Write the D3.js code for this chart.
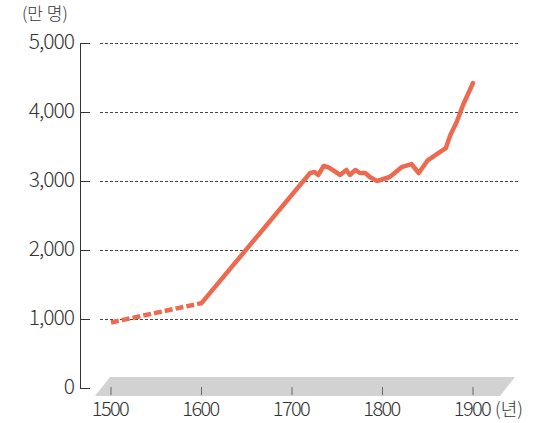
<!DOCTYPE html>
<html>
<head>
<meta charset="utf-8">
<script src="https://cdn.jsdelivr.net/npm/d3@7"></script>
<style>
  body { margin: 0; background: #fff; }
  text { font-family: "Noto Sans CJK KR", "Noto Sans", sans-serif; fill: #333; font-weight: 300; }
</style>
</head>
<body>
<svg width="546" height="423"></svg>
<script>
// estimated (dashed) part
var earlyYears = [1500, 1600];
var earlyPop = [950, 1230];

// recorded part
var years = [1600, 1720, 1725, 1729, 1735, 1740, 1750, 1753, 1760, 1764, 1770, 1775, 1781, 1786, 1794,
    1808, 1821, 1832, 1840, 1850, 1860, 1870, 1875, 1882, 1889, 1900];
var pop = [1230, 3116, 3130, 3087, 3217, 3200, 3116, 3087, 3160, 3087, 3160, 3116, 3116, 3058, 3000,
    3058, 3200, 3246, 3116, 3300, 3390, 3478, 3667, 3855, 4101, 4420];

var yTicks = [0, 1000, 2000, 3000, 4000, 5000];
var xTicks = [1500, 1600, 1700, 1800, 1900];

var svg = d3.select("svg");

var x = d3.scaleLinear().domain([1500, 1900]).range([111, 473]);
var y = d3.scaleLinear().domain([0, 5000]).range([388, 43]);

var fmt = d3.format(",");

// gray floor band
var bandTop = 377, bandBot = 396;
svg.append("path")
    .attr("d", "M" + (x(1500) - 16) + "," + bandBot +
        "L" + (x(1500) - 1) + "," + bandTop +
        "L" + (x(1900) + 42) + "," + bandTop +
        "L" + (x(1900) + 27) + "," + bandBot + "Z")
    .attr("fill", "#d2d2d2");

// x ticks inside band
svg.append("g")
    .selectAll("line")
    .data(xTicks)
    .enter().append("line")
    .attr("x1", function (d) { return x(d); })
    .attr("x2", function (d) { return x(d); })
    .attr("y1", 387)
    .attr("y2", 395)
    .attr("stroke", "#666")
    .attr("stroke-width", 1);

// grid lines
svg.append("g")
    .selectAll("line")
    .data(yTicks.slice(1))
    .enter().append("line")
    .attr("x1", 100)
    .attr("x2", 519)
    .attr("y1", function (d) { return y(d) + 0.5; })
    .attr("y2", function (d) { return y(d) + 0.5; })
    .attr("stroke", "#444")
    .attr("stroke-width", 1)
    .attr("stroke-dasharray", "3,2");

// y axis
svg.append("line")
    .attr("x1", 80.5).attr("x2", 80.5)
    .attr("y1", y(5000)).attr("y2", y(0) + 0.5)
    .attr("stroke", "#333");

svg.append("g")
    .selectAll("line")
    .data(yTicks)
    .enter().append("line")
    .attr("x1", 80)
    .attr("x2", 90)
    .attr("y1", function (d) { return y(d) + 0.5; })
    .attr("y2", function (d) { return y(d) + 0.5; })
    .attr("stroke", "#333");

svg.append("g")
    .selectAll("text")
    .data(yTicks)
    .enter().append("text")
    .attr("x", 74)
    .attr("y", function (d) { return y(d) + 6; })
    .attr("text-anchor", "end")
    .attr("font-size", "21px")
    .attr("letter-spacing", "-1px")
    .text(function (d) { return fmt(d); });

svg.append("text")
    .attr("x", 22)
    .attr("y", 20)
    .attr("font-size", "17px")
    .text("(만 명)");

// x labels
svg.append("g")
    .selectAll("text")
    .data(xTicks)
    .enter().append("text")
    .attr("x", function (d) { return x(d) - 1; })
    .attr("y", 416)
    .attr("text-anchor", "middle")
    .attr("font-size", "20px")
    .attr("letter-spacing", "-1.6px")
    .text(function (d) { return d; });

svg.append("text")
    .attr("x", 495)
    .attr("y", 416)
    .attr("font-size", "18px")
    .text("(년)");

// lines
var line = d3.line()
    .x(function (d) { return x(d[0]); })
    .y(function (d) { return y(d[1]); });

svg.append("path")
    .datum(d3.zip(earlyYears, earlyPop))
    .attr("d", line)
    .attr("fill", "none")
    .attr("stroke", "#ec6a4f")
    .attr("stroke-width", 4.5)
    .attr("stroke-dasharray", "8,3");

svg.append("path")
    .datum(d3.zip(years, pop))
    .attr("d", line)
    .attr("fill", "none")
    .attr("stroke", "#ec6a4f")
    .attr("stroke-width", 4.5)
    .attr("stroke-linejoin", "round")
    .attr("stroke-linecap", "round");
</script>
</body>
</html>
